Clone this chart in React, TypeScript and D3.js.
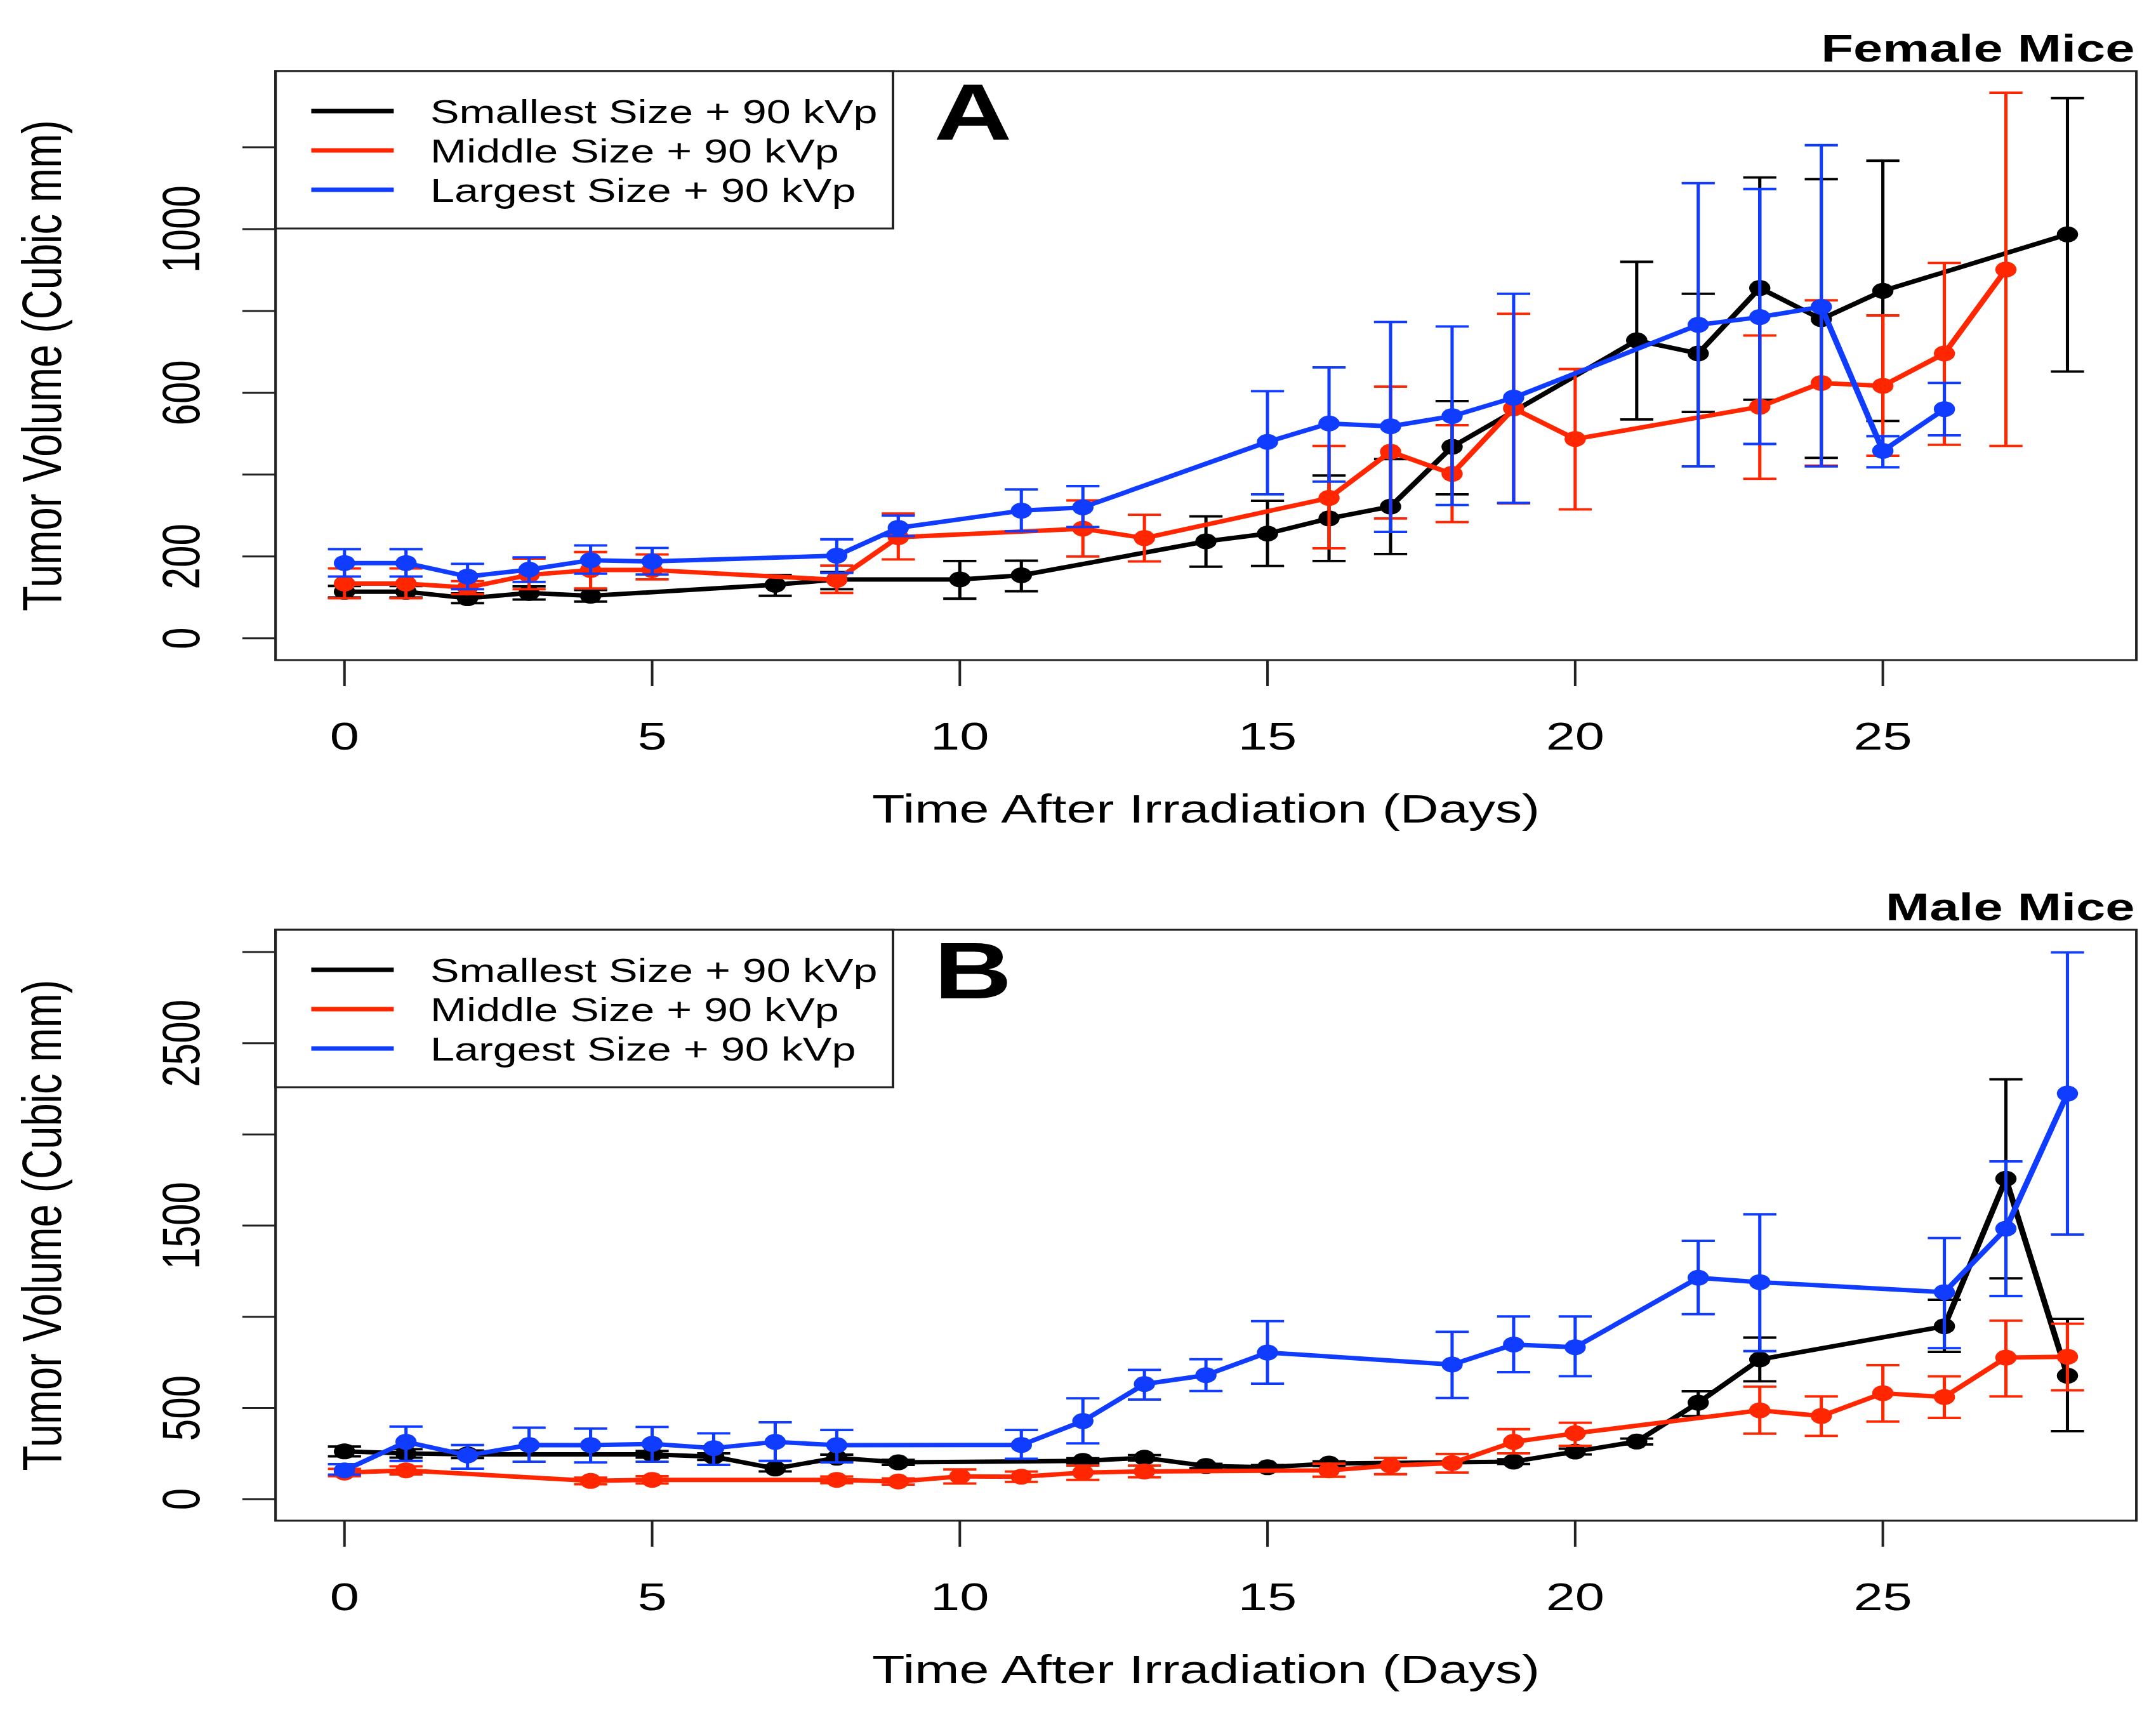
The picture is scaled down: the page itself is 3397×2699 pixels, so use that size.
import * as d3 from 'd3';
import React from 'react';

// the source figure is stretched sideways, so we draw in narrow units and let the svg widen it
const WIDTH = 3397;
const HEIGHT = 2699;
const STRETCH = 1.34;
const VIEW_W = WIDTH / STRETCH;
const FONT = '"Liberation Sans", Arial, Helvetica, sans-serif';

const seriesNames = ['Smallest Size + 90 kVp', 'Middle Size + 90 kVp', 'Largest Size + 90 kVp'];
const seriesColors = ['#000000', '#ff2600', '#0f3cff'];

const xTicks = [0, 5, 10, 15, 20, 25];
const femaleYTicks = [0, 200, 400, 600, 800, 1000, 1200];
const femaleYLabels = [0, 200, 600, 1000];
const maleYTicks = [0, 500, 1000, 1500, 2000, 2500, 3000];
const maleYLabels = [0, 500, 1500, 2500];

// Female mice (panel A)
const femaleSmallDays = [0, 1, 2, 3, 4, 7, 8, 10, 11, 14, 15, 16, 17, 18, 21, 22, 23, 24, 25, 28];
const femaleSmallMean = [114, 114, 98, 111, 104, 131, 144, 144, 154, 237, 256, 293, 322, 468, 728, 696, 856, 780, 849, 987];
const femaleSmallLow = [100, 100, 86, 95, 90, 104, 120, 97, 115, 175, 177, 189, 206, 352, 535, 553, 583, 441, 531, 652];
const femaleSmallHigh = [128, 128, 110, 127, 118, 155, 162, 189, 190, 298, 336, 398, 438, 580, 920, 842, 1126, 1122, 1167, 1320];

const femaleMidDays = [0, 1, 2, 3, 4, 5, 8, 9, 12, 13, 16, 17, 18, 19, 20, 23, 24, 25, 26, 27];
const femaleMidMean = [134, 134, 124, 155, 167, 167, 143, 247, 268, 245, 343, 456, 402, 562, 487, 566, 624, 617, 696, 901];
const femaleMidLow = [98, 98, 108, 120, 122, 144, 111, 193, 200, 188, 220, 293, 284, 330, 315, 390, 422, 446, 473, 470];
const femaleMidHigh = [171, 171, 140, 195, 211, 205, 178, 305, 337, 302, 470, 615, 521, 793, 658, 740, 826, 789, 917, 1333];

const femaleLargeDays = [0, 1, 2, 3, 4, 5, 8, 9, 11, 12, 15, 16, 17, 18, 19, 22, 23, 24, 25, 26];
const femaleLargeMean = [184, 184, 151, 168, 191, 188, 202, 270, 312, 320, 480, 525, 518, 543, 588, 766, 785, 810, 458, 560];
const femaleLargeLow = [151, 151, 120, 138, 158, 156, 160, 250, 262, 272, 352, 383, 260, 326, 331, 420, 475, 420, 418, 496];
const femaleLargeHigh = [218, 218, 182, 198, 227, 221, 242, 300, 364, 372, 604, 662, 773, 762, 842, 1112, 1098, 1205, 494, 624];

// Male mice (panel B)
const maleSmallDays = [0, 1, 2, 5, 6, 7, 8, 9, 12, 13, 14, 15, 16, 19, 20, 21, 22, 23, 26, 27, 28];
const maleSmallMean = [262, 251, 246, 246, 233, 168, 227, 202, 210, 227, 182, 175, 195, 206, 261, 316, 529, 766, 948, 1757, 677];
const maleSmallLow = [235, 228, 225, 228, 215, 152, 210, 188, 196, 212, 170, 163, 182, 193, 245, 300, 456, 646, 807, 1211, 373];
const maleSmallHigh = [289, 274, 267, 264, 251, 184, 244, 216, 224, 242, 194, 187, 208, 219, 277, 332, 592, 886, 1093, 2302, 988];

const maleMidDays = [0, 1, 4, 5, 8, 9, 10, 11, 12, 13, 16, 17, 18, 19, 20, 23, 24, 25, 26, 27, 28];
const maleMidMean = [146, 158, 100, 106, 106, 97, 125, 123, 146, 152, 158, 184, 198, 314, 361, 487, 456, 581, 560, 776, 781];
const maleMidLow = [126, 136, 82, 86, 88, 80, 86, 95, 106, 120, 123, 137, 146, 251, 292, 359, 347, 425, 445, 564, 597];
const maleMidHigh = [166, 180, 118, 126, 124, 114, 163, 151, 184, 184, 195, 226, 248, 384, 419, 617, 564, 735, 673, 979, 962];

const maleLargeDays = [0, 1, 2, 3, 4, 5, 6, 7, 8, 11, 12, 13, 14, 15, 18, 19, 20, 22, 23, 26, 27, 28];
const maleLargeMean = [158, 314, 240, 297, 296, 303, 280, 314, 296, 297, 428, 631, 680, 804, 738, 848, 833, 1214, 1190, 1135, 1483, 2224];
const maleLargeLow = [135, 210, 167, 205, 202, 205, 188, 210, 202, 222, 306, 546, 593, 633, 555, 697, 674, 1014, 812, 828, 1114, 1451];
const maleLargeHigh = [192, 398, 297, 392, 387, 396, 361, 422, 379, 379, 553, 709, 767, 976, 918, 1002, 1002, 1416, 1562, 1432, 1852, 2998];

type Series = { days: number[]; mean: number[]; low: number[]; high: number[]; color: string };

const femaleSeries: Series[] = [
  { days: femaleSmallDays, mean: femaleSmallMean, low: femaleSmallLow, high: femaleSmallHigh, color: seriesColors[0] },
  { days: femaleMidDays, mean: femaleMidMean, low: femaleMidLow, high: femaleMidHigh, color: seriesColors[1] },
  { days: femaleLargeDays, mean: femaleLargeMean, low: femaleLargeLow, high: femaleLargeHigh, color: seriesColors[2] },
];

const maleSeries: Series[] = [
  { days: maleSmallDays, mean: maleSmallMean, low: maleSmallLow, high: maleSmallHigh, color: seriesColors[0] },
  { days: maleMidDays, mean: maleMidMean, low: maleMidLow, high: maleMidHigh, color: seriesColors[1] },
  { days: maleLargeDays, mean: maleLargeMean, low: maleLargeLow, high: maleLargeHigh, color: seriesColors[2] },
];

type PanelProps = {
  top: number;
  bottom: number;
  yDomain: [number, number];
  yTicks: number[];
  yLabels: number[];
  title: string;
  letter: string;
  series: Series[];
};

const LEFT = 324;
const RIGHT = 2512;

const Panel: React.FC<PanelProps> = ({ top, bottom, yDomain, yTicks, yLabels, title, letter, series }) => {
  const x = d3.scaleLinear().domain([-1.12, 29.12]).range([LEFT, RIGHT]);
  const y = d3.scaleLinear().domain(yDomain).range([bottom, top]);
  const line = d3
    .line<[number, number]>()
    .x((d) => x(d[0]))
    .y((d) => y(d[1]));
  const cap = 19.5;
  const midY = (top + bottom) / 2;

  return (
    <g>
      {series.map((s, si) => (
        <g key={si}>
          {s.days.map((d, i) => (
            <g key={i} stroke={s.color} strokeWidth={3.8}>
              <line x1={x(d)} x2={x(d)} y1={y(s.low[i])} y2={y(s.high[i])} />
              <line x1={x(d) - cap} x2={x(d) + cap} y1={y(s.low[i])} y2={y(s.low[i])} />
              <line x1={x(d) - cap} x2={x(d) + cap} y1={y(s.high[i])} y2={y(s.high[i])} />
            </g>
          ))}
          <path
            d={line(s.days.map((d, i) => [d, s.mean[i]] as [number, number])) || ''}
            fill="none"
            stroke={s.color}
            strokeWidth={7}
            strokeLinejoin="round"
          />
          {s.days.map((d, i) => (
            <circle key={i} cx={x(d)} cy={y(s.mean[i])} r={12.5} fill={s.color} />
          ))}
        </g>
      ))}

      <rect x={LEFT} y={top} width={RIGHT - LEFT} height={bottom - top} fill="none" stroke="#222" strokeWidth={3} />

      {/* y axis */}
      {yTicks.map((t) => (
        <line key={t} x1={LEFT - 39} x2={LEFT} y1={y(t)} y2={y(t)} stroke="#222" strokeWidth={3} />
      ))}
      {yLabels.map((t) => (
        <text
          key={t}
          transform={`translate(234,${y(t)}) rotate(-90)`}
          textAnchor="middle"
          fontSize={62}
          fontFamily={FONT}
        >
          {t}
        </text>
      ))}
      <text transform={`translate(72,${midY}) rotate(-90)`} textAnchor="middle" fontSize={65} fontFamily={FONT}>
        Tumor Volume (Cubic mm)
      </text>

      {/* x axis */}
      {xTicks.map((t) => (
        <g key={t}>
          <line x1={x(t)} x2={x(t)} y1={bottom} y2={bottom + 41} stroke="#222" strokeWidth={3} />
          <text x={x(t)} y={bottom + 141} textAnchor="middle" fontSize={62} fontFamily={FONT}>
            {t}
          </text>
        </g>
      ))}
      <text x={(LEFT + RIGHT) / 2} y={bottom + 256} textAnchor="middle" fontSize={63} fontFamily={FONT}>
        Time After Irradiation (Days)
      </text>

      {/* titles */}
      <text x={RIGHT - 2} y={top - 15} textAnchor="end" fontSize={62} fontWeight="bold" fontFamily={FONT}>
        {title}
      </text>
      <text x={1144} y={top + 108} textAnchor="middle" fontSize={127} fontWeight="bold" fontFamily={FONT}>
        {letter}
      </text>

      {/* legend */}
      <rect x={LEFT} y={top} width={1050 - LEFT} height={248} fill="white" stroke="#222" strokeWidth={3} />
      {seriesNames.map((name, i) => (
        <g key={name}>
          <line
            x1={366}
            x2={463}
            y1={top + 63 + i * 62}
            y2={top + 63 + i * 62}
            stroke={seriesColors[i]}
            strokeWidth={7}
          />
          <text x={506} y={top + 82 + i * 62} fontSize={51} fontFamily={FONT}>
            {name}
          </text>
        </g>
      ))}
    </g>
  );
};

export default function App() {
  return (
    <svg
      width={WIDTH}
      height={HEIGHT}
      viewBox={`0 0 ${VIEW_W} ${HEIGHT}`}
      preserveAspectRatio="none"
      style={{ position: 'absolute', left: 0, top: 0, background: 'white' }}
    >
      <rect x={0} y={0} width={VIEW_W} height={HEIGHT} fill="white" />
      <Panel
        top={112}
        bottom={1040}
        yDomain={[-53, 1386]}
        yTicks={femaleYTicks}
        yLabels={femaleYLabels}
        title="Female Mice"
        letter="A"
        series={femaleSeries}
      />
      <Panel
        top={1465}
        bottom={2396}
        yDomain={[-118, 3122]}
        yTicks={maleYTicks}
        yLabels={maleYLabels}
        title="Male Mice"
        letter="B"
        series={maleSeries}
      />
    </svg>
  );
}
